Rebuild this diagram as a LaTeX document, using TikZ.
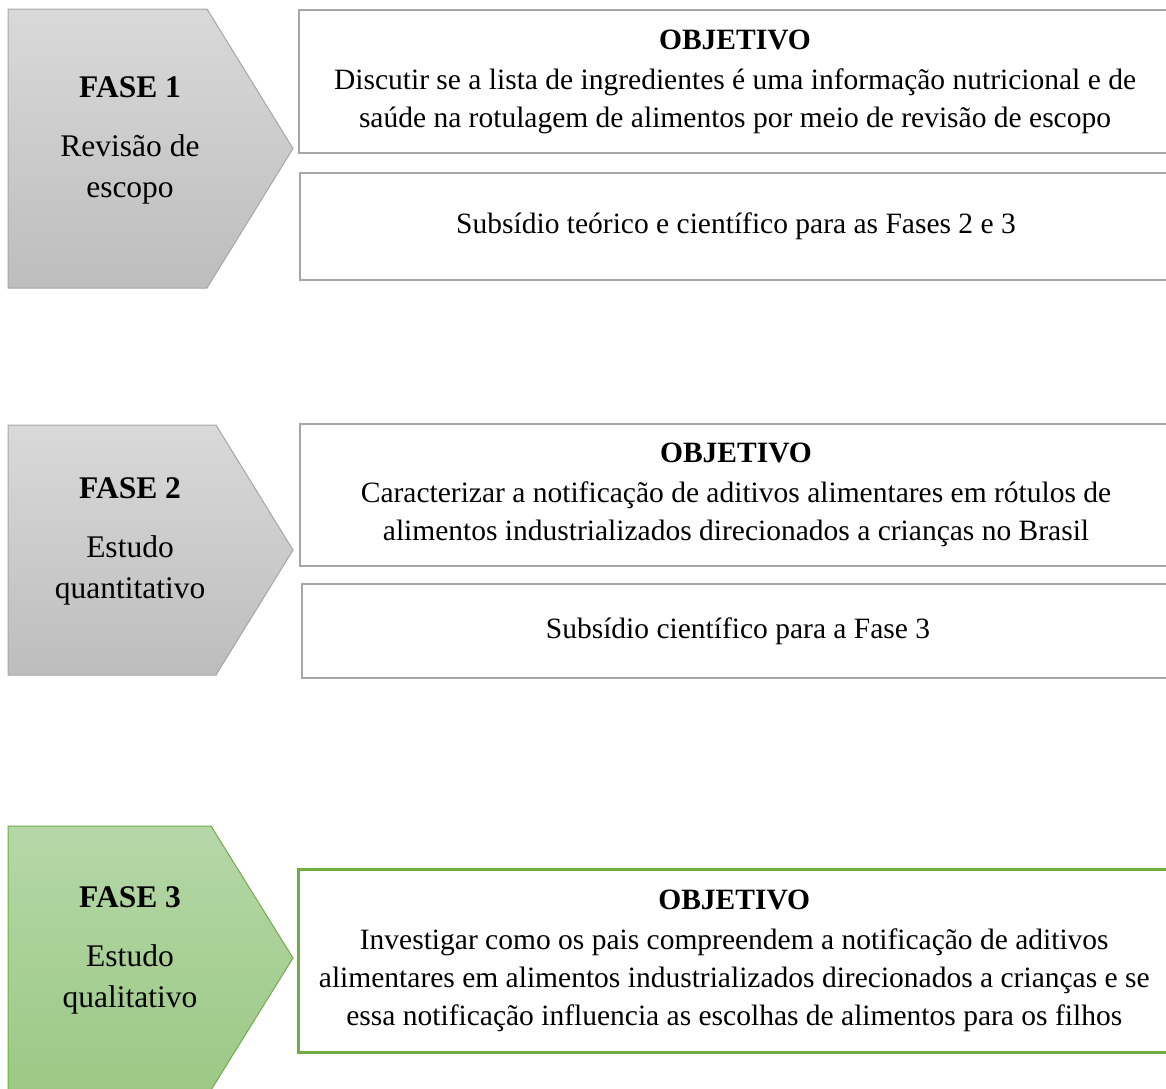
\documentclass[tikz,border=0pt]{standalone}
\usepackage{fontspec}
\setmainfont{Liberation Serif}
\definecolor{grayA}{HTML}{D9D9D9}
\definecolor{grayB}{HTML}{BDBDBD}
\definecolor{grayline}{HTML}{A6A6A6}
\definecolor{greenA}{HTML}{B6D7A8}
\definecolor{greenB}{HTML}{9BC985}
\definecolor{greenline}{HTML}{70AD47}
\tikzset{
  fasetext/.style={align=center, font=\fontsize{31.5}{40.5}\selectfont},
  objbox/.style={draw=grayline, line width=2pt, anchor=north west, minimum width=872pt,
                 align=center, font=\fontsize{29.5}{38}\selectfont, inner sep=0pt},
}
\begin{document}
\begin{tikzpicture}[x=1pt,y=-1pt]
\useasboundingbox (0,0) rectangle (1166,1088);

% fases (seta)
\def\fases {9/288/207/grayA/grayB/grayline, 425/675/216/grayA/grayB/grayline, 826/1090/211/greenA/greenB/greenline}
\foreach \t/\b/\c/\ca/\cb/\cl in \fases
{	\shade[top color=\ca, bottom color=\cb, draw=\cl, line width=1pt]
		(8,\t) -- (\c,\t) -- (293,{(\t+\b)/2}) -- (\c,\b) -- (8,\b) -- cycle;
}

\node[fasetext] (f1) at (130,140) {\textbf{FASE 1}\\[19pt]Revisão de\\escopo};
\node[fasetext] (f2) at (130,541) {\textbf{FASE 2}\\[19pt]Estudo\\quantitativo};
\node[fasetext] (f3) at (130,950) {\textbf{FASE 3}\\[19pt]Estudo\\qualitativo};

% objetivos
\node[objbox, minimum height=143pt] (obj1) at (298,9)
	{\textbf{OBJETIVO}\\[2pt]Discutir se a lista de ingredientes é uma informação nutricional e de\\saúde na rotulagem de alimentos por meio de revisão de escopo};
\node[objbox, minimum height=107pt] (sub1) at (299,172) {Subsídio teórico e científico para as Fases 2 e 3};

\node[objbox, minimum height=142pt] (obj2) at (299,423)
	{\textbf{OBJETIVO}\\[2pt]Caracterizar a notificação de aditivos alimentares em rótulos de\\alimentos industrializados direcionados a crianças no Brasil};
\node[objbox, minimum height=94pt] (sub2) at (301,583) {Subsídio científico para a Fase 3};

\node[objbox, draw=greenline, line width=2.5pt, minimum height=183pt] (obj3) at (297,868)
	{\textbf{OBJETIVO}\\[2pt]Investigar como os pais compreendem a notificação de aditivos\\alimentares em alimentos industrializados direcionados a crianças e se\\essa notificação influencia as escolhas de alimentos para os filhos};

\end{tikzpicture}
\end{document}
